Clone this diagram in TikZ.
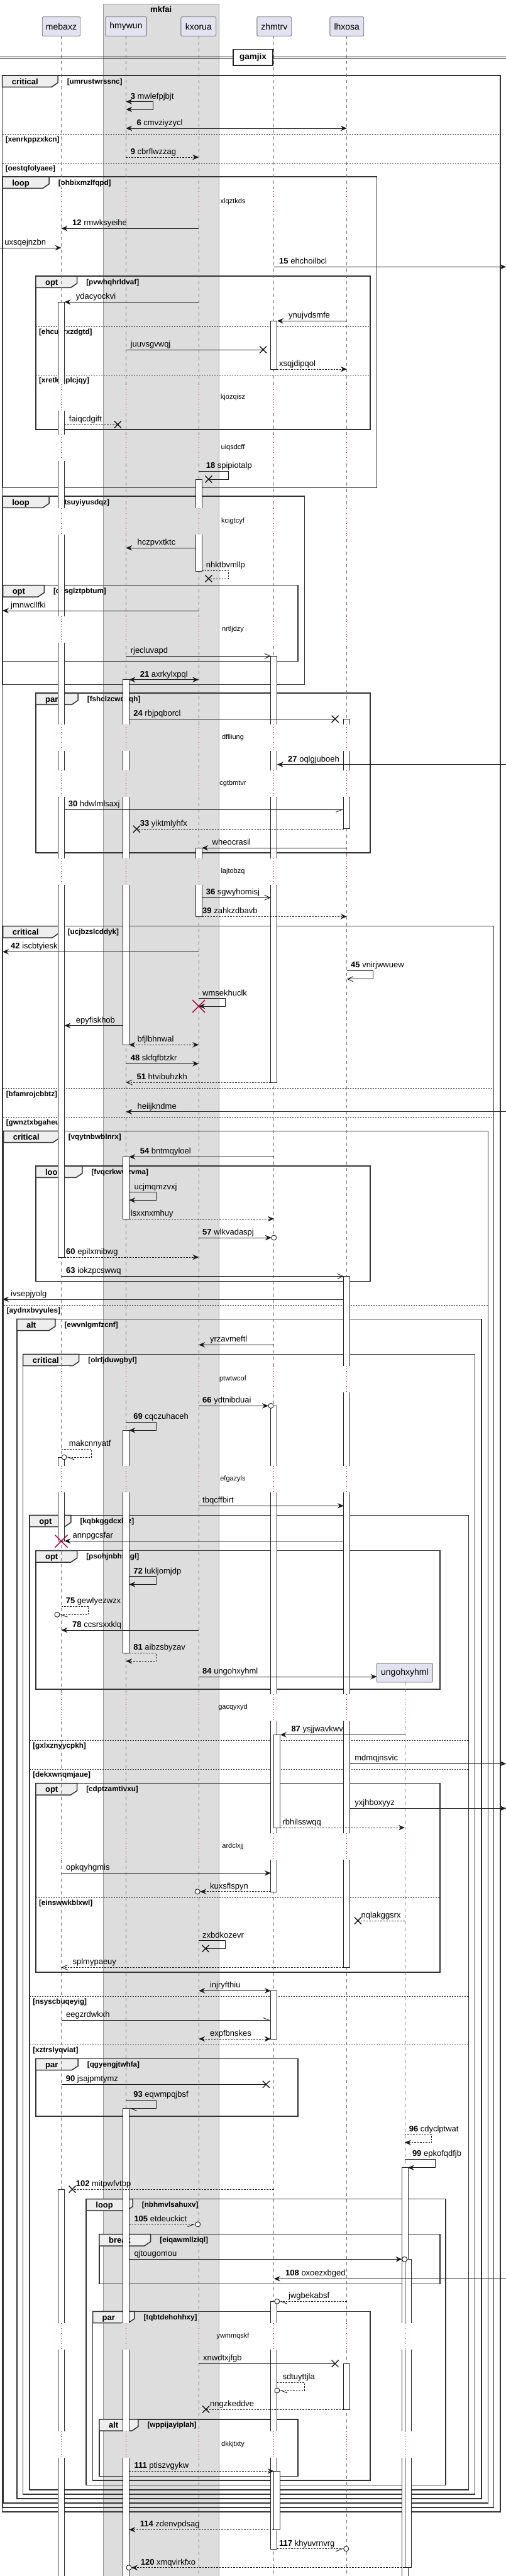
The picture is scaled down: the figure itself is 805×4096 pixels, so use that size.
\documentclass[tikz,border=0pt]{standalone}
\usepackage{fontspec}
\setmainfont{Liberation Sans}
\usetikzlibrary{arrows.meta}
\definecolor{boxgrey}{HTML}{DDDDDD}
\definecolor{partfill}{HTML}{E2E2F0}
\definecolor{tabfill}{HTML}{EEEEEE}
\definecolor{delayred}{HTML}{A80036}
\newcounter{mc}
\tikzset{
 part/.style={draw=black!55, fill=partfill, rounded corners=2pt, inner sep=0pt, minimum height=30.6pt, font=\fontsize{14}{16}\selectfont, line width=0.8pt},
 life/.style={draw=black!55, line width=0.7pt, dash pattern=on 5pt off 5pt},
 actbar/.style={draw=black!85, fill=white, line width=0.8pt},
 delayline/.style={draw=delayred, line width=0.8pt, dash pattern=on 1pt off 3pt},
 msgl/.style={draw=black!90, line width=0.9pt},
 dsh/.style={dash pattern=on 2.5pt off 2pt},
 tF/.style={-{Stealth[length=10pt,width=8.5pt,inset=3.5pt]}},
 tB/.style={{Stealth[length=10pt,width=8.5pt,inset=3.5pt]}-{Stealth[length=10pt,width=8.5pt,inset=3.5pt]}},
 tO/.style={-{Straight Barb[length=9pt,width=8pt]}},
 tL/.style={-{Straight Barb[length=10pt,width=8pt,left]}},
 tR/.style={-{Straight Barb[length=10pt,width=8pt,right]}},
 lbl/.style={anchor=base west, inner sep=0pt, font=\fontsize{13}{15}\selectfont},
 frameline/.style={draw=black!80, line width=1.5pt},
 tabst/.style={fill=tabfill, draw=black!80, line width=1.5pt, line join=miter},
 kw/.style={anchor=base west, inner sep=0pt, font=\bfseries\fontsize{13}{15}\selectfont},
 cond/.style={anchor=base west, inner sep=0pt, font=\bfseries\fontsize{11.7}{13}\selectfont},
 elseline/.style={draw=black!80, line width=0.9pt, dash pattern=on 2pt off 2pt},
 dtext/.style={inner sep=0pt, font=\fontsize{11}{13}\selectfont},
 xm/.style={draw=black!90, line width=1.4pt},
 xred/.style={draw=delayred, line width=1.4pt},
 circm/.style={draw=black!90, line width=0.9pt, fill=white},
}
\newcommand\msg[6][]{%
 \stepcounter{mc}%
 \coordinate (m\themc a) at (#2,#4);%
 \coordinate (m\themc b) at (#3,#4);%
 \draw[msgl,#1] (m\themc a) -- (m\themc b);%
 \node[lbl] (t\themc) at (#5,#4-4.5) {#6};%
}
\newcommand\selfm[8][]{%
 \stepcounter{mc}%
 \coordinate (m\themc a) at (#2,#4);%
 \coordinate (m\themc b) at (#3,#4);%
 \coordinate (m\themc c) at (#3,#5);%
 \coordinate (m\themc d) at (#6,#5);%
 \draw[msgl,#1] (m\themc a) -- (m\themc b) -- (m\themc c) -- (m\themc d);%
 \node[lbl] (t\themc) at (#7,#4-4.5) {#8};%
}
\newcommand\xmk[2]{\draw[xm] (#1-5.5,#2-5.5) -- (#1+5.5,#2+5.5) (#1-5.5,#2+5.5) -- (#1+5.5,#2-5.5);}
\newcommand\redx[2]{\draw[xred] (#1-10,#2-10) -- (#1+10,#2+10) (#1-10,#2+10) -- (#1+10,#2-10);}
\newcommand\circmk[2]{\draw[circm] (#1,#2) circle[radius=4];}
\newcommand\actb[3]{\draw[actbar] (#1-5,#2) rectangle (#1+5,#3);}
\newcommand\grp[7]{%
 \stepcounter{mc}%
 \draw[frameline] (#1,#2) rectangle (#3,#4);%
 \draw[tabst] (#1,#2) -- (#1+#5,#2) -- (#1+#5,#2+11.6) -- (#1+#5-10,#2+18.3) -- (#1,#2+18.3) -- cycle;%
 \node[kw] (k\themc) at (#1+15,#2+14) {#6};%
 \node[cond] (c\themc) at (#1+#5+14.5,#2+13) {#7};%
}
\newcommand\elsediv[4]{%
 \stepcounter{mc}%
 \draw[elseline] (#1,#3) -- (#2,#3);%
 \node[cond] (e\themc) at (#1+5,#3+12.5) {#4};%
}
\newcommand\dly[4][]{%
 \stepcounter{mc}%
 \foreach \lx/\lc in {97.5/white,200.3/boxgrey,316.2/boxgrey,435.8/white,551.8/white#1} {%
   \fill[\lc] (\lx-7,#2) rectangle (\lx+12,#3);
   \draw[delayline] (\lx,#2) -- (\lx,#3);}%
 \node[dtext] (d\themc) at (370.5,{(#2+#3)/2}) {#4};%
}
\begin{document}
\begin{tikzpicture}[x=1pt,y=-1pt]
\useasboundingbox (0,0) rectangle (805,4096);
\fill[white] (0,0) rectangle (805,4096);
% box
\fill[boxgrey] (164,6) rectangle (348.3,4100);
\draw[black!40, line width=0.6pt] (164,4100) -- (164,6) -- (348.3,6) -- (348.3,4100);
\node[font=\bfseries\fontsize{13}{15}\selectfont, inner sep=0pt] (boxt) at (256.2,14.7) {mkfai};
% frames
\grp{3.6}{120}{796}{3994}{88.5}{critical}{[umrustwrssnc]}
\elsediv{3.6}{796}{213.3}{[xenrkppzxkcn]}
\elsediv{3.6}{796}{259.3}{[oestqfolyaee]}
\grp{4.1}{281}{599.4}{775.7}{74}{loop}{[ohbixmzlfqpd]}
\grp{56.9}{439}{589}{683}{65.7}{opt}{[pvwhqhrldvaf]}
\elsediv{56.9}{589}{519.3}{[ehcuorxzdgtd]}
\elsediv{56.9}{589}{596.3}{[xretkmplcjqy]}
\grp{4.1}{789}{484.5}{1088.3}{74}{loop}{[ztsuyiyusdqz]}
\grp{4.6}{930.7}{474.1}{1051.7}{65.7}{opt}{[qxsglztpbtum]}
\grp{56.9}{1102}{589}{1356}{67.3}{par}{[fshclzcwqcqh]}
\grp{4.6}{1472.7}{785.7}{3986.7}{88.5}{critical}{[ucjbzslcddyk]}
\elsediv{4.6}{785.7}{1730.7}{[bfamrojcbbtz]}
\elsediv{4.6}{785.7}{1776.3}{[gwnztxbgaheu]}
\grp{5.6}{1798.3}{776.4}{3979.7}{88.5}{critical}{[vqytnbwblnrx]}
\grp{56.9}{1854}{589}{2037.3}{74}{loop}{[fvqcrkwwzvma]}
\elsediv{5.6}{776.4}{2075}{[aydnxbvyules]}
\grp{26.9}{2097.3}{766}{3972.7}{61}{alt}{[ewvnlgmfzcnf]}
\grp{36.7}{2153.3}{755.7}{3965.7}{89}{critical}{[olrfjduwgbyl]}
\grp{47.1}{2409.3}{745.3}{3958.7}{65.7}{opt}{[kqbkggdcxluz]}
\grp{56.9}{2465.7}{699.8}{2686}{65.7}{opt}{[psohjnbhssgl]}
\elsediv{47.1}{745.3}{2767.3}{[gxlxznyycpkh]}
\elsediv{47.1}{745.3}{2813.3}{[dekxwnqmjaue]}
\grp{56.9}{2835.7}{699.8}{3136}{65.7}{opt}{[cdptzamtivxu]}
\elsediv{56.9}{699.8}{3017}{[einswwkblxwl]}
\elsediv{47.1}{745.3}{3174.3}{[nsyscbuqeyig]}
\elsediv{47.1}{745.3}{3251.3}{[xztrslyqviat]}
\grp{56.9}{3273.3}{474.1}{3365}{67.3}{par}{[qgyengjtwhfa]}
\grp{137.2}{3496.7}{709.1}{3951.3}{74}{loop}{[nbhmvlsahuxv]}
\grp{157.9}{3552.7}{699.8}{3631.3}{81.8}{break}{[eiqawmllziql]}
\grp{147.5}{3675.3}{589}{3944}{66.3}{par}{[tqbtdehohhxy]}
\grp{157.9}{3846.7}{474.1}{3937.3}{62}{alt}{[wppijayiplah]}
% participants
\node[part, minimum width=60.5pt] (pA) at (97.5,42) {mebaxz};
\node[part, minimum width=65.7pt] (pB) at (200.5,42) {hmywun};
\node[part, minimum width=55.9pt] (pC) at (315.8,42) {kxorua};
\node[part, minimum width=54.9pt] (pD) at (436.3,42) {zhmtrv};
\node[part, minimum width=53.9pt] (pE) at (551.8,42) {lhxosa};
\node[part, minimum width=89pt] (pF) at (643.9,2659.7) {ungohxyhml};
\coordinate (eA) at (97.5,4100);
\coordinate (eB) at (200.3,4100);
\coordinate (eC) at (316.2,4100);
\coordinate (eD) at (435.8,4100);
\coordinate (eE) at (551.8,4100);
\coordinate (eF) at (643.9,4100);
\coordinate (sA) at (97.5,57.3);
\coordinate (sB) at (200.3,57.3);
\coordinate (sC) at (316.2,57.3);
\coordinate (sD) at (435.8,57.3);
\coordinate (sE) at (551.8,57.3);
\draw[life] (sA) -- (eA);
\draw[life] (sB) -- (eB);
\draw[life] (sC) -- (eC);
\draw[life] (sD) -- (eD);
\draw[life] (sE) -- (eE);
\draw[life] (pF.south) -- (eF);
% divider
\coordinate (g1) at (0,90); \coordinate (g2) at (805,90);
\coordinate (g3) at (0,93.3); \coordinate (g4) at (805,93.3);
\draw[black!90, line width=0.9pt] (g1) -- (g2);
\draw[black!90, line width=0.9pt] (g3) -- (g4);
\node[draw=black!85, line width=1.6pt, fill=white, minimum width=63pt, minimum height=25.7pt, inner sep=0pt, font=\bfseries\fontsize{13.5}{15}\selectfont] (gam) at (402.5,91.2) {gamjix};
% activation bars
\actb{97.5}{480.3}{1999}
\actb{97.5}{2317}{2450.3}
\actb{97.5}{3481}{4100}
\actb{200.3}{1080.7}{1661.3}
\actb{200.3}{1839.3}{1938}
\actb{200.3}{2274.3}{2628.3}
\actb{200.3}{3352.3}{4100}
\actb{316.2}{762}{908.3}
\actb{316.2}{1348.3}{1457.3}
\actb{435.8}{510.3}{587.3}
\actb{435.8}{1043.3}{1721}
\actb{435.8}{2235.3}{3008}
\actb{440.8}{2758.3}{2906}
\actb{435.8}{3165.3}{3242}
\actb{435.8}{3659.3}{4053.3}
\actb{440.8}{3929.3}{4022.3}
\actb{551.8}{1143.3}{1317.7}
\actb{551.8}{2029.3}{3128.3}
\actb{551.8}{3758.3}{3831}
\actb{643.9}{3446.7}{4100}
\actb{648.9}{3592.3}{4082.7}
% delays
\dly{300}{342}{xlqztkds}
\dly{611}{653}{kjozqisz}
\dly{691}{733}{uiqsdcff}
\dly{808}{850}{kcigtcyf}
\dly{979.5}{1021.5}{nrtljdzy}
\dly{1152}{1194}{dflliung}
\dly{1224.5}{1266.5}{cgtbmtvr}
\dly{1364.5}{1406.5}{lajtobzq}
\dly{2172}{2214}{ptwtwcof}
\dly{2331}{2373}{efgazyls}
\dly[,643.9/white]{2694}{2736}{gacqyxyd}
\dly[,643.9/white]{2915}{2957}{ardclxjj}
\dly[,643.9/white]{3694}{3736}{ywmmqskf}
\dly[,643.9/white]{3866}{3908}{dkkjtxty}
% messages
\selfm[tB]{200.3}{243.3}{161.7}{174}{200.3}{207.6}{\textbf{3} mwlefpjbjt}
\msg[tB]{200.3}{551.8}{204}{217.4}{\textbf{6} cmvziyzycl}
\msg[tF,dsh]{200.3}{316.2}{250}{207.6}{\textbf{9} cbrflwzzag}
\msg[tF]{316.2}{97.5}{363.3}{115}{\textbf{12} rmwksyeihe}
\msg[tF]{0}{97.5}{394}{7.2}{uxsqejnzbn}
\msg[tF]{435.8}{805}{424.3}{444}{\textbf{15} ehchoilbcl}
\msg[tF]{316.2}{102.5}{480.3}{120.6}{ydacyockvi}
\msg[tF]{551.8}{440.8}{510.3}{459}{ynujvdsmfe}
\msg{200.3}{418.7}{556}{207.6}{juuvsgvwqj} \xmk{418.7}{556}
\msg[tF,dsh]{440.8}{551.8}{587}{444}{xsqjdipqol}
\msg[dsh]{102.5}{187.4}{675}{109.7}{faiqcdgift} \xmk{187.4}{675}
\selfm{316.2}{363.4}{749.3}{762}{331.8}{327.6}{\textbf{18} spipiotalp} \xmk{331.8}{762}
\msg[tF]{311.2}{200.3}{871.3}{218.4}{hczpvxtktc}
\selfm[dsh]{321.2}{363.4}{907.3}{920}{331.8}{327.6}{nhktbvmllp} \xmk{331.8}{920}
\msg[tF]{316.2}{4}{971}{17}{jmnwcllfki}
\msg[tO]{200.3}{430.8}{1043.3}{207.6}{rjecluvapd}
\msg[tB]{205.3}{316.2}{1080.7}{222.6}{\textbf{21} axrkylxpql}
\msg{205.3}{533.1}{1143.3}{212.2}{\textbf{24} rbjpqborcl} \xmk{533.1}{1143.3}
\msg[tF]{805}{440.8}{1215.7}{458}{\textbf{27} oqlgjuboeh}
\msg[tR]{102.5}{546.8}{1287.3}{108.7}{\textbf{30} hdwlmlsaxj}
\msg[dsh]{546.8}{217.4}{1318.3}{222.6}{\textbf{33} yiktmlyhfx} \xmk{217.4}{1318.3}
\msg[tF]{551.8}{321.2}{1348.3}{337.5}{wheocrasil}
\msg[tO]{321.2}{430.8}{1427.3}{327.6}{\textbf{36} sgwyhomisj}
\msg[tF,dsh]{321.2}{551.8}{1457.3}{322}{\textbf{39} zahkzdbavb}
\msg[tF]{316.2}{4}{1513.3}{17}{\textbf{42} iscbtyiesk}
\selfm[tO]{551.8}{593.7}{1543.3}{1556.7}{551.8}{558}{\textbf{45} vnirjwwuew}
\selfm[tF]{316.2}{358.2}{1587.7}{1600}{316.2}{322}{wmsekhuclk} \redx{316.2}{1600}
\msg[tF]{195.3}{102.5}{1630.7}{120.6}{epyfiskhob}
\msg[tB,dsh]{205.3}{316.2}{1661.3}{218.4}{bfjlbhnwal}
\msg[tF]{200.3}{316.2}{1691.3}{207.6}{\textbf{48} skfqfbtzkr}
\msg[tO,dsh]{430.8}{200.3}{1721}{217.4}{\textbf{51} htvibuhzkh}
\msg[tF]{805}{200.3}{1767.7}{218.4}{heiijkndme}
\msg[tF]{435.8}{205.3}{1839.3}{222.6}{\textbf{54} bntmqyloel}
\selfm[tF]{205.3}{248.4}{1895.7}{1908.3}{205.3}{213.3}{ucjmqmzvxj}
\msg[tF,dsh]{205.3}{435.8}{1938}{207.6}{lsxxnxmhuy}
\msg[tF]{316.2}{431.8}{1968}{322}{\textbf{57} wlkvadaspj} \circmk{435.8}{1968}
\msg[tF,dsh]{102.5}{316.2}{1999}{105}{\textbf{60} epilxmibwg}
\msg[tO]{97.5}{546.8}{2029.3}{105}{\textbf{63} iokzpcswwq}
\msg[tF]{546.8}{4}{2066}{17}{ivsepjyolg}
\msg[tF]{435.8}{316.2}{2138.3}{333.9}{yrzavmeftl}
\msg[tF]{316.2}{427}{2235.3}{322}{\textbf{66} ydtnibduai} \circmk{431}{2235.3}
\selfm[tF]{200.3}{248.4}{2261}{2274.3}{205.3}{212.2}{\textbf{69} cqczuhaceh}
\selfm[tL,dsh]{97.5}{145.4}{2304.3}{2317}{106}{109.7}{makcnnyatf} \circmk{102}{2317}
\msg[tF]{316.2}{546.8}{2394.3}{322}{tbqcffbirt}
\msg[tF]{546.8}{102.5}{2450.3}{115.4}{annpgcsfar} \redx{97.5}{2450.5}
\selfm[tF]{205.3}{248.4}{2506.7}{2519.3}{205.3}{212.2}{\textbf{72} lukljomjdp}
\selfm[tL,dsh]{97.5}{140.8}{2554}{2567.3}{95}{104.6}{\textbf{75} gewlyezwzx} \circmk{91}{2567.3}
\msg[tF]{316.2}{97.5}{2592}{115}{\textbf{78} ccsrsxxklq}
\selfm[tF,dsh]{205.3}{248.4}{2628.3}{2641.3}{200.3}{212.2}{\textbf{81} aibzsbyzav}
\msg[tF]{316.2}{599.4}{2666}{322}{\textbf{84} ungohxyhml}
\msg[tF]{643.9}{445.8}{2758.3}{463.3}{\textbf{87} ysjjwavkwv}
\msg[tF]{556.8}{805}{2804.3}{564.2}{mdmqjnsvic}
\msg[tF]{556.8}{805}{2875.3}{564.2}{yxjhboxyyz}
\msg[tF,dsh]{445.8}{643.9}{2906}{449.3}{rbhilsswqq}
\msg[tF]{97.5}{430.8}{2978.3}{105}{opkqyhgmis}
\msg[tF,dsh]{430.8}{318.2}{3007.7}{333.9}{kuxsflspyn} \circmk{314.2}{3007.7}
\msg[dsh]{643.9}{569.4}{3054}{574.5}{nqlakggsrx} \xmk{569.4}{3054}
\selfm{316.2}{358.2}{3085.7}{3098.3}{327}{322}{zxbdkozevr} \xmk{327}{3098.3}
\msg[tO,dsh]{546.8}{97.5}{3128.3}{115.4}{splmypaeuy}
\msg[tB]{316.2}{430.8}{3165.3}{333.9}{injryfthiu}
\msg[tL]{97.5}{430.8}{3212.3}{105}{eegzrdwkxh}
\msg[tB,dsh]{316.2}{430.8}{3242}{333.9}{expfbnskes}
\msg{97.5}{423.4}{3314.3}{104.6}{\textbf{90} jsajpmtymz} \xmk{423.4}{3314.3}
\selfm[tL]{200.3}{248.4}{3339.3}{3352.3}{205.3}{212.2}{\textbf{93} eqwmpqjbsf}
\selfm[tF,dsh]{643.9}{686.9}{3394}{3406.7}{643.9}{650.6}{\textbf{96} cdyclptwat}
\selfm[tF]{643.9}{692}{3433.3}{3446.7}{648.9}{655.8}{\textbf{99} epkofqdfjb}
\msg[dsh]{435.8}{115}{3481}{120.6}{\textbf{102} mitpwfvtbp} \xmk{115}{3481}
\msg[tR,dsh]{205.3}{310.7}{3536.7}{213.3}{\textbf{105} etdeuckict} \circmk{314.7}{3536.7}
\msg[tF]{205.3}{639.6}{3592.3}{213.3}{qjtougomou} \circmk{643.6}{3592.3}
\msg[tF]{805}{435.8}{3623.3}{454}{\textbf{108} oxoezxbged}
\msg[tL,dsh]{551.8}{444.8}{3659.3}{459}{jwgbekabsf} \circmk{440.8}{3659.3}
\msg{316.2}{533.1}{3758.3}{323}{xnwdtxjfgb} \xmk{533.1}{3758.3}
\selfm[tL,dsh]{440.8}{484.5}{3788.3}{3801}{444.8}{449.3}{sdtuyttjla} \circmk{440.8}{3801}
\msg[dsh]{546.8}{327.6}{3831}{333.9}{nngzkeddve} \xmk{327.6}{3831}
\msg[tF,dsh]{205.3}{435.8}{3929.3}{213.3}{\textbf{111} ptiszvgykw}
\msg[tF,dsh]{435.8}{205.3}{4022.3}{222.6}{\textbf{114} zdenvpdsag}
\msg[tR,dsh]{440.8}{546.7}{4052.7}{444}{\textbf{117} khyuvrnvrg} \circmk{550.7}{4052.7}
\msg[tF,dsh]{643.9}{209}{4082.7}{223.6}{\textbf{120} xmqvirkfxo} \circmk{205}{4082.7}
\end{tikzpicture}
\end{document}
